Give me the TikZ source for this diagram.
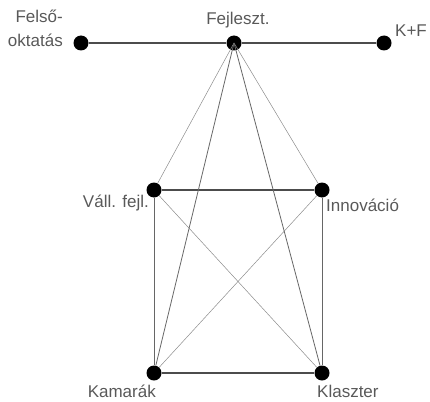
\documentclass[tikz,border=0pt]{standalone}
\usepackage{fontspec}
\setmainfont{Liberation Sans}
\begin{document}
\begin{tikzpicture}[x=1pt,y=-1pt,
  dot/.style={circle,fill=black,inner sep=0pt,minimum size=15pt},
  lbl/.style={font=\fontsize{17}{24}\selectfont,text=black!65,inner sep=0pt},
  main/.style={draw=black!70,line width=1.4pt},
  side/.style={draw=black!60,line width=1pt},
  thin/.style={draw=black!45,line width=0.5pt},
  mid/.style={draw=black!60,line width=0.8pt}]
\useasboundingbox (0,0) rectangle (430,401);
\node[dot] (fo) at (81,43) {};
\node[dot] (fe) at (234,43) {};
\node[dot] (kf) at (384,43) {};
\node[dot] (va) at (154,190) {};
\node[dot] (in) at (322,190) {};
\node[dot] (ka) at (154,373) {};
\node[dot] (kl) at (322,373) {};
\draw[main] (fo) -- (fe) -- (kf);
\draw[main] (va) -- (in);
\draw[main] (ka) -- (kl);
\draw[side] (va) -- (ka);
\draw[side] (in) -- (kl);
\draw[thin] (va) -- (kl);
\draw[thin] (in) -- (ka);
\draw[thin] (fe.center) -- (va);
\draw[thin] (fe.center) -- (in);
\draw[mid] (fe.center) -- (ka);
\draw[mid] (fe.center) -- (kl);
\node[lbl,align=right,anchor=east] (tfo) at (63,28) {Felső-\\oktatás};
\node[lbl] (tfe) at (238,20) {Fejleszt.};
\node[lbl,anchor=west] (tkf) at (395,31) {K+F};
\node[lbl,anchor=east] (tva) at (149,203) {Váll. fejl.};
\node[lbl,anchor=west] (tin) at (326,205) {Innováció};
\node[lbl,anchor=east] (tka) at (156,391) {Kamarák};
\node[lbl,anchor=west] (tkl) at (317,391) {Klaszter};
\end{tikzpicture}
\end{document}
